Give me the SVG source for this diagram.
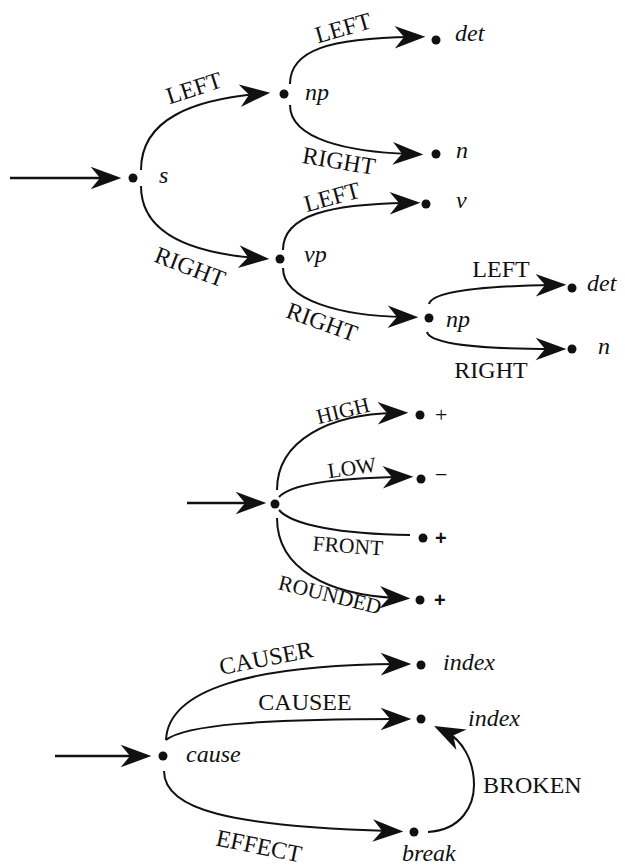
<svg xmlns="http://www.w3.org/2000/svg" width="625" height="866" viewBox="0 0 625 866">
<style>
.e{fill:none;stroke:#111;stroke-width:2}
.in{fill:none;stroke:#111;stroke-width:2.6}
.d{fill:#111}
text{fill:#111}
.l{font-size:24px}
.m{font-size:21.5px}
.i{font-size:24px;font-style:italic}
.p{font-size:22px}
.pb{font-size:20px;font-weight:bold}
</style>
<defs>
<marker id="ah" markerUnits="userSpaceOnUse" markerWidth="40" markerHeight="30" refX="0" refY="0" viewBox="-15 -10 30 20" orient="auto" overflow="visible">
<path d="M10,0 L-13,-8.5 L-6,0 L-13,8.5 Z" fill="#111"/>
</marker>
</defs>
<g id="connectors">
<path class="in" d="M10,178 L108,178" marker-end="url(#ah)"/>
<path class="e" d="M141,170 C141,118 195,100 257,94" marker-end="url(#ah)"/>
<path class="e" d="M141,186 C141,236 195,253 256,258" marker-end="url(#ah)"/>
<path class="e" d="M290,84 C290,50 330,38 412,37" marker-end="url(#ah)"/>
<path class="e" d="M290,105 C290,140 350,152 410,154" marker-end="url(#ah)"/>
<path class="e" d="M283,250 C283,215 330,204 407,203" marker-end="url(#ah)"/>
<path class="e" d="M283,268 C283,300 340,316 405,317" marker-end="url(#ah)"/>
<path class="e" d="M429,304 C432,292 480,286 553,285" marker-end="url(#ah)"/>
<path class="e" d="M427,332 C430,344 480,349 553,349" marker-end="url(#ah)"/>
<path class="in" d="M187,503 L253,503" marker-end="url(#ah)"/>
<path class="e" d="M277,490 C277,440 330,414 395,413" marker-end="url(#ah)"/>
<path class="e" d="M279,497 C292,483 340,478 400,477" marker-end="url(#ah)"/>
<path class="e" d="M279,510 C292,525 340,534 410,535"/>
<path class="e" d="M277,518 C277,570 330,595 397,598" marker-end="url(#ah)"/>
<path class="in" d="M55,756 L138,756" marker-end="url(#ah)"/>
<path class="e" d="M166,740 C168,690 250,665 398,664" marker-end="url(#ah)"/>
<path class="e" d="M166,740 C185,725 260,719 398,719" marker-end="url(#ah)"/>
<path class="e" d="M164,771 C164,810 230,826 390,831" marker-end="url(#ah)"/>
<path class="e" d="M428,832 C462,830 474,805 474,785 C474,760 462,740 446,732" marker-end="url(#ah)"/>
</g>
<g id="edge-labels" font-family="Liberation Serif, Times New Roman, serif">
<text class="l" text-anchor="middle" transform="translate(194,88) rotate(-18)" y="8">LEFT</text>
<text class="l" text-anchor="middle" transform="translate(190,267) rotate(21)" y="8">RIGHT</text>
<text class="l" text-anchor="middle" transform="translate(343,28) rotate(-16)" y="8">LEFT</text>
<text class="l" text-anchor="middle" transform="translate(339,161) rotate(9.5)" y="8">RIGHT</text>
<text class="l" text-anchor="middle" transform="translate(332,197) rotate(-15)" y="8">LEFT</text>
<text class="l" text-anchor="middle" transform="translate(322,322) rotate(20)" y="8">RIGHT</text>
<text class="l" text-anchor="middle" x="501" y="277">LEFT</text>
<text class="l" text-anchor="middle" x="491" y="378">RIGHT</text>
<text class="m" text-anchor="middle" transform="translate(343,411) rotate(-14)" y="7">HIGH</text>
<text class="m" text-anchor="middle" transform="translate(352,468) rotate(-8)" y="7">LOW</text>
<text class="m" text-anchor="middle" transform="translate(348,546) rotate(4)" y="7">FRONT</text>
<text class="m" text-anchor="middle" transform="translate(330,595) rotate(14)" y="7">ROUNDED</text>
<text class="l" text-anchor="middle" transform="translate(266,658) rotate(-11)" y="8">CAUSER</text>
<text class="l" text-anchor="middle" x="305" y="710">CAUSEE</text>
<text class="l" text-anchor="middle" transform="translate(259,846) rotate(11.5)" y="8">EFFECT</text>
<text class="l" x="483" y="793">BROKEN</text>
</g>
<g font-family="Liberation Serif, Times New Roman, serif">
<g id="node-s"><circle class="d" cx="133" cy="178" r="4.5"/><text class="i" x="159" y="183">s</text></g>
<g id="node-np1"><circle class="d" cx="284" cy="94" r="4.5"/><text class="i" x="305" y="100">np</text></g>
<g id="node-det1"><circle class="d" cx="436" cy="40" r="4.5"/><text class="i" x="455" y="41">det</text></g>
<g id="node-n1"><circle class="d" cx="436" cy="154" r="4.5"/><text class="i" x="456" y="158">n</text></g>
<g id="node-vp"><circle class="d" cx="280" cy="259" r="4.5"/><text class="i" x="304" y="262">vp</text></g>
<g id="node-v"><circle class="d" cx="426" cy="204" r="4.5"/><text class="i" x="456" y="208">v</text></g>
<g id="node-np2"><circle class="d" cx="429" cy="318" r="4.5"/><text class="i" x="446" y="327">np</text></g>
<g id="node-det2"><circle class="d" cx="572" cy="288" r="4.5"/><text class="i" x="587" y="291">det</text></g>
<g id="node-n2"><circle class="d" cx="572" cy="349" r="4.5"/><text class="i" x="598" y="354">n</text></g>
<g id="node-root2"><circle class="d" cx="275" cy="504" r="4.5"/></g>
<g id="node-high"><circle class="d" cx="420" cy="415" r="4.5"/><text class="p" x="435" y="422">+</text></g>
<g id="node-low"><circle class="d" cx="421" cy="479" r="4.5"/><text class="p" x="435" y="482">−</text></g>
<g id="node-front"><circle class="d" cx="423" cy="538" r="4.5"/><text class="pb" x="435" y="545" font-family="Liberation Sans, Arial, sans-serif">+</text></g>
<g id="node-rounded"><circle class="d" cx="420" cy="600" r="4.5"/><text class="pb" x="434" y="607" font-family="Liberation Sans, Arial, sans-serif">+</text></g>
<g id="node-cause"><circle class="d" cx="163" cy="756" r="4.5"/><text class="i" x="186" y="762">cause</text></g>
<g id="node-index1"><circle class="d" cx="421" cy="665" r="4.5"/><text class="i" x="443" y="670">index</text></g>
<g id="node-index2"><circle class="d" cx="421" cy="719" r="4.5"/><text class="i" x="468" y="726">index</text></g>
<g id="node-break"><circle class="d" cx="414" cy="832" r="4.5"/><text class="i" x="402" y="861">break</text></g>
</g>
</svg>
